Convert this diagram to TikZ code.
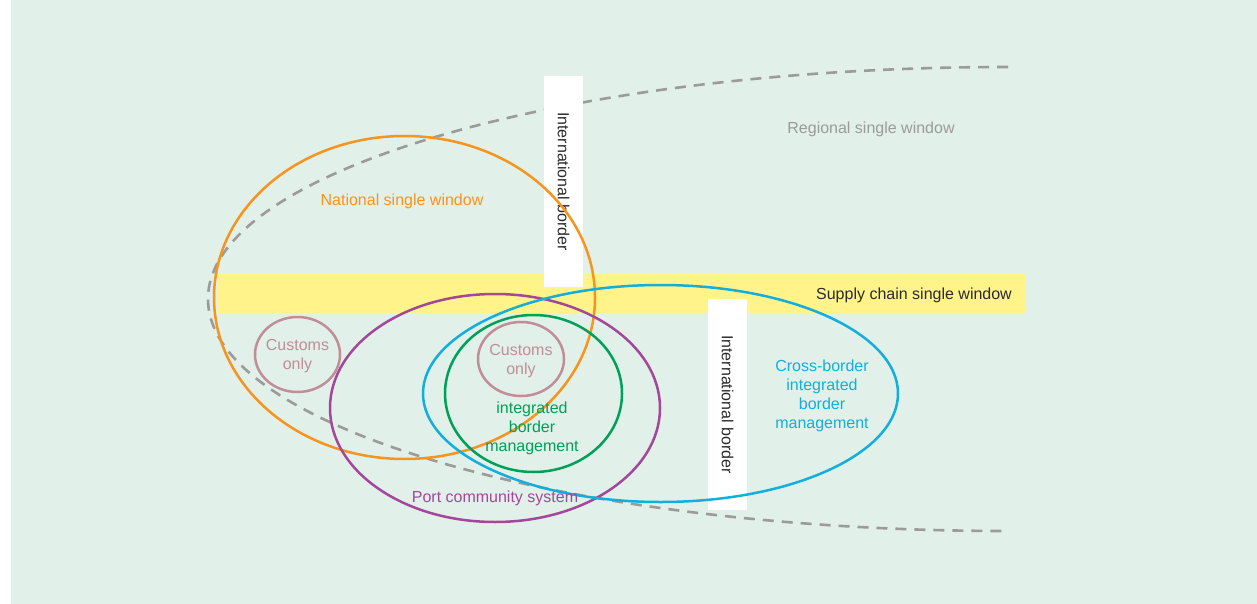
\documentclass[tikz,border=0pt]{standalone}
\usepackage{fontspec}
\setmainfont{Liberation Sans}

\definecolor{mint}{HTML}{E1F0E8}
\definecolor{bandyellow}{HTML}{FFF38A}
\definecolor{nswOrange}{HTML}{F7941D}
\definecolor{rswGray}{HTML}{9B9B9B}
\definecolor{pcsPurple}{HTML}{A4479B}
\definecolor{cbBlue}{HTML}{13AEDC}
\definecolor{ibmGreen}{HTML}{00A05A}
\definecolor{custMauve}{HTML}{BF8E99}
\definecolor{darktext}{HTML}{2B2B2B}

\tikzset{
  lbl/.style={font=\fontsize{16}{19}\selectfont, align=center, inner sep=0pt},
  borderbox/.style={fill=white, rotate=-90, minimum width=211pt, minimum height=39pt,
    inner sep=0pt, text=darktext, font=\fontsize{16}{19}\selectfont},
  ring/.style={line width=2.5pt}
}

\begin{document}
\begin{tikzpicture}[x=1pt,y=-1pt]

        \useasboundingbox (0,0) rectangle (1257,604);
        \fill[white] (0,0) rectangle (1257,604);
        \fill[mint] (11,0) rectangle (1257,604);

        % supply chain band
        \fill[bandyellow] (217,274) rectangle (1025,313);

        % regional single window
        \draw[rswGray, line width=2.6pt, dash pattern=on 11pt off 8pt]
            (1008,67) arc[start angle=90, end angle=270, x radius=800pt, y radius=232pt];

        \node[borderbox] (borderA) at (563.5,181.5) {International border};
        \node[borderbox] (borderB) at (727.5,404.5) {International border};

        \draw[ring, nswOrange] (404.5,297.5) ellipse [x radius=190.5pt, y radius=161.5pt];
        \draw[ring, pcsPurple] (495,408) ellipse [x radius=165pt, y radius=114pt];
        \draw[ring, cbBlue] (660.5,393.5) ellipse [x radius=237.5pt, y radius=108.5pt];
        \draw[ring, ibmGreen] (533.5,393.5) ellipse [x radius=88.5pt, y radius=78.5pt];
        \draw[ring, custMauve] (297.5,354.5) ellipse [x radius=42.5pt, y radius=37.5pt];
        \draw[ring, custMauve] (521,359) ellipse [x radius=43pt, y radius=37pt];

        \node[lbl, text=rswGray] (regional) at (871,129) {Regional single window};
        \node[lbl, text=nswOrange] (national) at (402,201) {National single window};
        \node[lbl, text=darktext] (supply) at (914,295) {Supply chain single window};
        \node[lbl, text=custMauve] (customsA) at (297.5,356.5) {Customs\\only};
        \node[lbl, text=custMauve] (customsB) at (521,361) {Customs\\only};
        \node[lbl, text=ibmGreen] (ibm) at (532,428.5) {integrated\\border\\management};
        \node[lbl, text=cbBlue] (crossborder) at (822,395.5) {Cross-border\\integrated\\border\\management};
        \node[lbl, text=pcsPurple] (pcs) at (495,498) {Port community system};
    \end{tikzpicture}
\end{document}
